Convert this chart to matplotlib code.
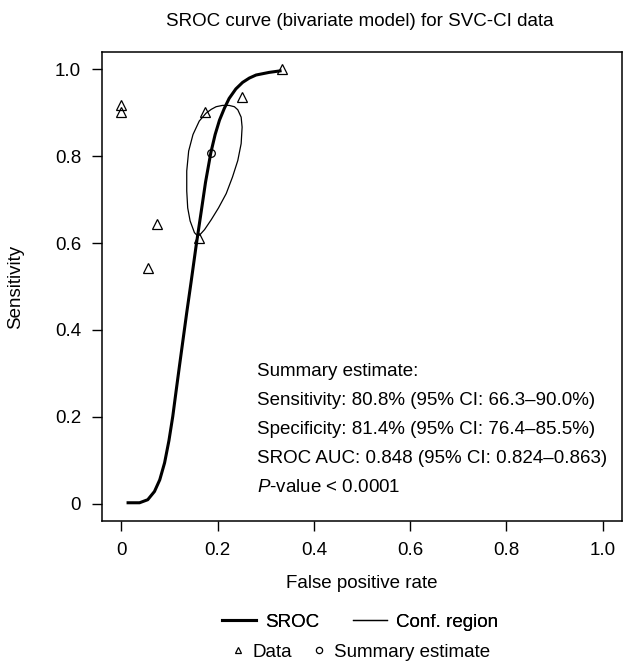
import matplotlib
matplotlib.use('Agg')
import matplotlib.pyplot as plt
from matplotlib.lines import Line2D

plt.rcParams['font.family'] = ['Liberation Sans', 'DejaVu Sans']
plt.rcParams['mathtext.fontset'] = 'custom'
plt.rcParams['mathtext.it'] = 'Liberation Sans:italic'
plt.rcParams['mathtext.rm'] = 'Liberation Sans'

# study data (false positive rate, sensitivity)
data_fpr = [0.0, 0.0, 0.333, 0.25, 0.174, 0.162, 0.075, 0.055]
data_sens = [0.919, 0.901, 1.0, 0.936, 0.902, 0.612, 0.643, 0.543]

# summary estimate
summ_fpr = 0.186
summ_sens = 0.808

# SROC curve
sroc_fpr = [0.011, 0.038, 0.055, 0.069, 0.080, 0.090, 0.099, 0.107, 0.114,
            0.121, 0.128, 0.136, 0.145, 0.155, 0.159, 0.166, 0.175, 0.186,
            0.195, 0.204, 0.214, 0.224, 0.238, 0.252, 0.266, 0.280, 0.307, 0.333]
sroc_sens = [0.002, 0.002, 0.009, 0.028, 0.055, 0.094, 0.145, 0.201, 0.260,
             0.318, 0.375, 0.440, 0.510, 0.590, 0.620, 0.672, 0.740, 0.808,
             0.850, 0.883, 0.910, 0.933, 0.955, 0.970, 0.980, 0.987, 0.993, 0.997]

# 95% confidence region
conf_fpr = [0.159, 0.152, 0.143, 0.138, 0.136, 0.136, 0.140, 0.149, 0.162,
            0.176, 0.187, 0.197, 0.210, 0.224, 0.235, 0.242, 0.249, 0.251,
            0.249, 0.242, 0.231, 0.218, 0.202, 0.187, 0.173, 0.164, 0.159]
conf_sens = [0.616, 0.624, 0.651, 0.681, 0.720, 0.766, 0.812, 0.850, 0.881,
             0.899, 0.908, 0.914, 0.917, 0.917, 0.914, 0.907, 0.890, 0.867,
             0.829, 0.790, 0.752, 0.714, 0.681, 0.654, 0.631, 0.620, 0.616]

ticks = [0, 0.2, 0.4, 0.6, 0.8, 1.0]
xtick_labels = ['0', '0.2', '0.4', '0.6', '0.8', '1.0']
ytick_labels = ['0', '0.2', '0.4', '0.6', '0.8', '1.0']

summary_lines = [
    'Summary estimate:',
    'Sensitivity: 80.8% (95% CI: 66.3\u201390.0%)',
    'Specificity: 81.4% (95% CI: 76.4\u201385.5%)',
    'SROC AUC: 0.848 (95% CI: 0.824\u20130.863)',
]

fig = plt.figure(figsize=(6.24, 6.64), dpi=100)
ax = fig.add_axes([102 / 624, 1 - 521 / 664, 520 / 624, 469 / 664])

ax.plot(sroc_fpr, sroc_sens, color='black', lw=2.2, solid_capstyle='butt',
        solid_joinstyle='round')
ax.plot(conf_fpr, conf_sens, color='black', lw=0.9, solid_joinstyle='round')
ax.plot(data_fpr, data_sens, linestyle='none', marker='^', markersize=6.5,
        markerfacecolor='none', markeredgecolor='black', markeredgewidth=0.9)
ax.plot([summ_fpr], [summ_sens], linestyle='none', marker='o', markersize=5.5,
        markerfacecolor='none', markeredgecolor='black', markeredgewidth=0.9)

ax.set_xlim(-0.04, 1.04)
ax.set_ylim(-0.04, 1.04)
ax.set_xticks(ticks)
ax.set_xticklabels(xtick_labels)
ax.set_yticks(ticks)
ax.set_yticklabels(ytick_labels)
ax.tick_params(direction='out', length=7, width=1, labelsize=13.5, pad=8)
for s in ax.spines.values():
    s.set_linewidth(1.1)

ax.set_xlabel('False positive rate', fontsize=13.5, labelpad=12)
ax.set_ylabel('Sensitivity', fontsize=13.5, labelpad=22)
fig.text(360 / 624, 1 - 22 / 664, 'SROC curve (bivariate model) for SVC-CI data',
         ha='center', va='center', fontsize=13.5)

ys = [0.304, 0.237, 0.170, 0.104]
for y, t in zip(ys, summary_lines):
    ax.text(0.282, y, t, fontsize=13.5, va='center', ha='left')
ax.text(0.282, 0.037, r'$\it{P}$-value < 0.0001', fontsize=13.5, va='center', ha='left')

h1 = [Line2D([], [], color='black', lw=2.2), Line2D([], [], color='black', lw=0.9)]
leg1 = fig.legend(h1, ['SROC', 'Conf. region'], ncol=2, frameon=False,
                  loc='center', bbox_to_anchor=(360 / 624, 1 - 622 / 664),
                  fontsize=13.5, handlelength=1.8, columnspacing=1.8, handletextpad=0.5)
h2 = [Line2D([], [], linestyle='none', marker='^', markersize=5, markerfacecolor='none',
             markeredgecolor='black', markeredgewidth=0.9),
      Line2D([], [], linestyle='none', marker='o', markersize=4.5, markerfacecolor='none',
             markeredgecolor='black', markeredgewidth=0.9)]
leg2 = fig.legend(h2, ['Data', 'Summary estimate'], ncol=2, frameon=False,
                  loc='center', bbox_to_anchor=(360 / 624, 1 - 652 / 664),
                  fontsize=13.5, handlelength=0.8, columnspacing=1.0, handletextpad=0.4)
fig.add_artist(leg1)

fig.savefig('out.png', dpi=100)
